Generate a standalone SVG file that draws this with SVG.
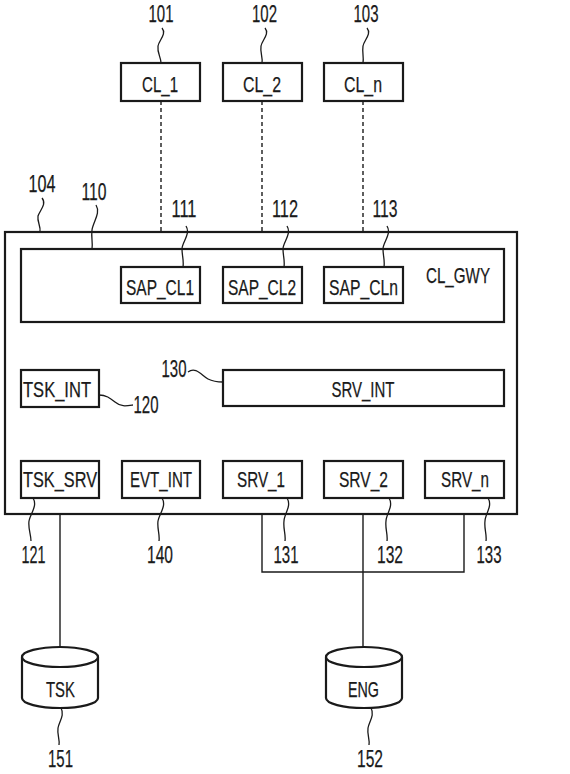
<svg xmlns="http://www.w3.org/2000/svg" width="570" height="774" viewBox="0 0 570 774">
<style>
.box{fill:#fff;stroke:#1a1a1a;stroke-width:2.2}
.lbl{font-family:"Liberation Sans",Arial,sans-serif;font-size:22px;fill:#1a1a1a;stroke:#1a1a1a;stroke-width:0.25;text-anchor:middle}
.num{font-family:"Liberation Sans",Arial,sans-serif;font-size:24px;fill:#1a1a1a;stroke:#1a1a1a;stroke-width:0.25;text-anchor:middle}
.ln{fill:none;stroke:#1a1a1a;stroke-width:1.4}
.dash{fill:none;stroke:#1a1a1a;stroke-width:1.4;stroke-dasharray:4 3}
.lead{fill:none;stroke:#1a1a1a;stroke-width:1.3}
</style>
<rect width="570" height="774" fill="#fff"/>

<g id="connectors">
<line class="dash" x1="161" y1="101" x2="161" y2="232"/>
<line class="dash" x1="262" y1="101" x2="262" y2="232"/>
<line class="dash" x1="363" y1="101" x2="363" y2="232"/>
<path class="ln" d="M60,461 V431 H464 V461 M161,431 V461 M262,431 V461 M363,431 V461"/>
<line class="ln" x1="60" y1="498" x2="60" y2="647"/>
<path class="ln" d="M262,498 V572 H464 V498 M363,498 V647"/>
</g>

<g id="n104"><rect class="box" x="5" y="232" width="512" height="282"/></g>
<g id="n110"><rect class="box" x="21" y="249" width="483" height="73"/><text class="lbl" x="458" y="283" textLength="64" lengthAdjust="spacingAndGlyphs">CL_GWY</text></g>

<g id="n101"><rect class="box" x="121" y="63" width="79" height="38"/><text class="lbl" x="160" y="92" textLength="36" lengthAdjust="spacingAndGlyphs">CL_1</text></g>
<g id="n102"><rect class="box" x="223" y="63" width="79" height="38"/><text class="lbl" x="262" y="92" textLength="38" lengthAdjust="spacingAndGlyphs">CL_2</text></g>
<g id="n103"><rect class="box" x="324" y="63" width="79" height="38"/><text class="lbl" x="363" y="92" textLength="38" lengthAdjust="spacingAndGlyphs">CL_n</text></g>

<g id="n111"><rect class="box" x="121" y="267" width="79" height="36"/><text class="lbl" x="160" y="295" textLength="68" lengthAdjust="spacingAndGlyphs">SAP_CL1</text></g>
<g id="n112"><rect class="box" x="223" y="267" width="79" height="36"/><text class="lbl" x="262" y="295" textLength="68" lengthAdjust="spacingAndGlyphs">SAP_CL2</text></g>
<g id="n113"><rect class="box" x="324" y="267" width="79" height="36"/><text class="lbl" x="363.5" y="295" textLength="69" lengthAdjust="spacingAndGlyphs">SAP_CLn</text></g>

<g id="n120"><rect class="box" x="21" y="370" width="78" height="37"/><text class="lbl" x="57" y="397" textLength="68" lengthAdjust="spacingAndGlyphs">TSK_INT</text></g>
<g id="n130"><rect class="box" x="223" y="370" width="281" height="36"/><text class="lbl" x="363" y="397" textLength="63" lengthAdjust="spacingAndGlyphs">SRV_INT</text></g>

<g id="n121"><rect class="box" x="21" y="461" width="78" height="37"/><text class="lbl" x="60" y="487" textLength="74" lengthAdjust="spacingAndGlyphs">TSK_SRV</text></g>
<g id="n140"><rect class="box" x="122" y="461" width="78" height="37"/><text class="lbl" x="161" y="487" textLength="62" lengthAdjust="spacingAndGlyphs">EVT_INT</text></g>
<g id="n131"><rect class="box" x="223" y="461" width="79" height="37"/><text class="lbl" x="261" y="487" textLength="48" lengthAdjust="spacingAndGlyphs">SRV_1</text></g>
<g id="n132"><rect class="box" x="324" y="461" width="79" height="37"/><text class="lbl" x="363.5" y="487" textLength="49" lengthAdjust="spacingAndGlyphs">SRV_2</text></g>
<g id="n133"><rect class="box" x="425" y="461" width="79" height="37"/><text class="lbl" x="465" y="487" textLength="48" lengthAdjust="spacingAndGlyphs">SRV_n</text></g>

<g id="n151"><path class="box" d="M22,657 V698 A38,10 0 0 0 98,698 V657"/><ellipse class="box" cx="60" cy="657" rx="38" ry="10"/><text class="lbl" x="60.5" y="697" textLength="29" lengthAdjust="spacingAndGlyphs">TSK</text></g>
<g id="n152"><path class="box" d="M326,657 V698 A38,10 0 0 0 402,698 V657"/><ellipse class="box" cx="364" cy="657" rx="38" ry="10"/><text class="lbl" x="363.5" y="697" textLength="31" lengthAdjust="spacingAndGlyphs">ENG</text></g>

<g id="refs">
<text class="num" x="161" y="22" textLength="25" lengthAdjust="spacingAndGlyphs">101</text>
<path class="lead" d="M162,28 C167,34 159,40 158,46 C157,53 161,57 161,63"/>
<text class="num" x="264.5" y="22" textLength="25" lengthAdjust="spacingAndGlyphs">102</text>
<path class="lead" d="M265,28 C270,34 262,40 261,46 C260,53 263,57 262,63"/>
<text class="num" x="366" y="22" textLength="25" lengthAdjust="spacingAndGlyphs">103</text>
<path class="lead" d="M367,28 C372,34 364,40 363,46 C362,53 364,57 363,63"/>
<text class="num" x="42" y="192" textLength="27" lengthAdjust="spacingAndGlyphs">104</text>
<path class="lead" d="M42,198 C47,204 40,210 38,216 C37,222 41,226 40,232"/>
<text class="num" x="94" y="200" textLength="25" lengthAdjust="spacingAndGlyphs">110</text>
<path class="lead" d="M96,205 C101,213 93,222 92,230 C91,238 93,242 92,249"/>
<text class="num" x="184" y="217" textLength="25" lengthAdjust="spacingAndGlyphs">111</text>
<path class="lead" d="M186,226 C191,234 182,242 182,249 C182,256 184,260 183,267"/>
<text class="num" x="285" y="217" textLength="26" lengthAdjust="spacingAndGlyphs">112</text>
<path class="lead" d="M287,226 C292,234 283,242 283,249 C283,256 285,260 284,267"/>
<text class="num" x="385" y="217" textLength="25" lengthAdjust="spacingAndGlyphs">113</text>
<path class="lead" d="M387,226 C392,234 383,242 383,249 C383,256 385,260 384,267"/>
<text class="num" x="174" y="377" textLength="25" lengthAdjust="spacingAndGlyphs">130</text>
<path class="lead" d="M188,372 C196,366 202,376 208,379 C214,382 218,382 223,382"/>
<text class="num" x="146" y="413" textLength="25" lengthAdjust="spacingAndGlyphs">120</text>
<path class="lead" d="M99,395 C106,395 110,398 115,402 C121,407 126,406 133,405"/>
<text class="num" x="33.5" y="563" textLength="24" lengthAdjust="spacingAndGlyphs">121</text>
<path class="lead" d="M33,498 C38,506 30,514 29,521 C28,529 31,534 31,541"/>
<text class="num" x="160" y="563" textLength="26" lengthAdjust="spacingAndGlyphs">140</text>
<path class="lead" d="M162,498 C167,506 159,514 158,521 C157,529 160,534 159,541"/>
<text class="num" x="286" y="563" textLength="25" lengthAdjust="spacingAndGlyphs">131</text>
<path class="lead" d="M287,498 C292,506 284,514 284,521 C283,529 286,534 285,541"/>
<text class="num" x="390" y="563" textLength="26" lengthAdjust="spacingAndGlyphs">132</text>
<path class="lead" d="M389,498 C394,506 386,514 386,521 C385,529 388,534 387,541"/>
<text class="num" x="489" y="563" textLength="25" lengthAdjust="spacingAndGlyphs">133</text>
<path class="lead" d="M488,498 C493,506 485,514 485,521 C484,529 487,534 486,541"/>
<text class="num" x="60.5" y="767" textLength="25" lengthAdjust="spacingAndGlyphs">151</text>
<path class="lead" d="M61,708 C65,715 59,722 58,728 C57,735 60,739 59,745"/>
<text class="num" x="370" y="767" textLength="26" lengthAdjust="spacingAndGlyphs">152</text>
<path class="lead" d="M371,708 C375,715 369,722 368,728 C367,735 370,739 369,745"/>
</g>
</svg>
